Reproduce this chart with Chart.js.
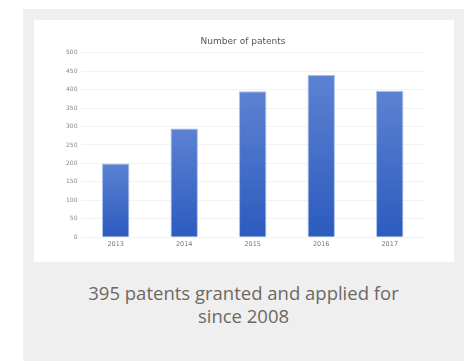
<!DOCTYPE html>
<html>
<head>
<meta charset="utf-8">
<script src="https://cdn.jsdelivr.net/npm/chart.js@4"></script>
<style>
    body { margin: 0; background: #fff; width: 466px; height: 361px; position: relative; overflow: hidden; }
    .panel { position: absolute; left: 23px; top: 9px; width: 441px; height: 352px; background: #efefef; }
    .card { position: absolute; left: 34px; top: 20px; width: 420px; height: 242px; background: #fff; }
    .caption {
        position: absolute; left: 23px; width: 441px; top: 281px;
        text-align: center; font-family: "Open Sans", sans-serif; font-size: 18.5px;
        line-height: 23px; color: #6d6863;
    }
</style>
</head>
<body>
<div class="panel"></div>
<div class="card"><canvas id="chart" width="420" height="242"></canvas></div>
<div class="caption">395 patents granted and applied for<br>since 2008</div>
<script>
    const years = ['2013', '2014', '2015', '2016', '2017'];
    const patents = [200, 295, 396, 440, 397];
    const yTicks = [0, 50, 100, 150, 200, 250, 300, 350, 400, 450, 500];

    // each bar gets its own top-to-bottom gradient
    function barGradient(ctx) {
        const chart = ctx.chart;
        const y = chart.scales.y;
        if (!y || !chart.chartArea || typeof ctx.raw !== 'number') return '#3f6cc8';
        const top = y.getPixelForValue(ctx.raw);
        const bottom = y.getPixelForValue(0);
        if (!isFinite(top) || !isFinite(bottom)) return '#3f6cc8';
        const g = chart.ctx.createLinearGradient(0, top, 0, bottom);
        g.addColorStop(0, '#5c82d2');
        g.addColorStop(1, '#2c5bbe');
        return g;
    }

    new Chart(document.getElementById('chart'), {
        type: 'bar',
        data: {
            labels: years,
            datasets: [{
                data: patents,
                backgroundColor: barGradient,
                borderColor: '#a8bfe9',
                borderWidth: 1,
                barPercentage: 0.5,
                categoryPercentage: 0.8
            }]
        },
        options: {
            responsive: false,
            animation: false,
            layout: { padding: { left: 28, right: 30, top: 0, bottom: 11 } },
            plugins: {
                legend: { display: false },
                tooltip: { enabled: false },
                title: {
                    display: true,
                    text: 'Number of patents',
                    color: '#555',
                    font: { family: 'DejaVu Sans', size: 9, weight: 'normal' },
                    padding: { top: 16, bottom: 6 }
                }
            },
            scales: {
                x: {
                    grid: { display: false, drawTicks: false },
                    border: { display: false },
                    ticks: { color: '#777', font: { family: 'DejaVu Sans', size: 6.5 }, padding: 3 }
                },
                y: {
                    min: 0,
                    max: 500,
                    afterBuildTicks: axis => { axis.ticks = yTicks.map(v => ({ value: v })); },
                    grid: { color: '#f2f2f2', drawTicks: false },
                    border: { display: false },
                    ticks: { color: '#888', font: { family: 'DejaVu Sans', size: 6 }, padding: 4 }
                }
            }
        }
    });
</script>
</body>
</html>
